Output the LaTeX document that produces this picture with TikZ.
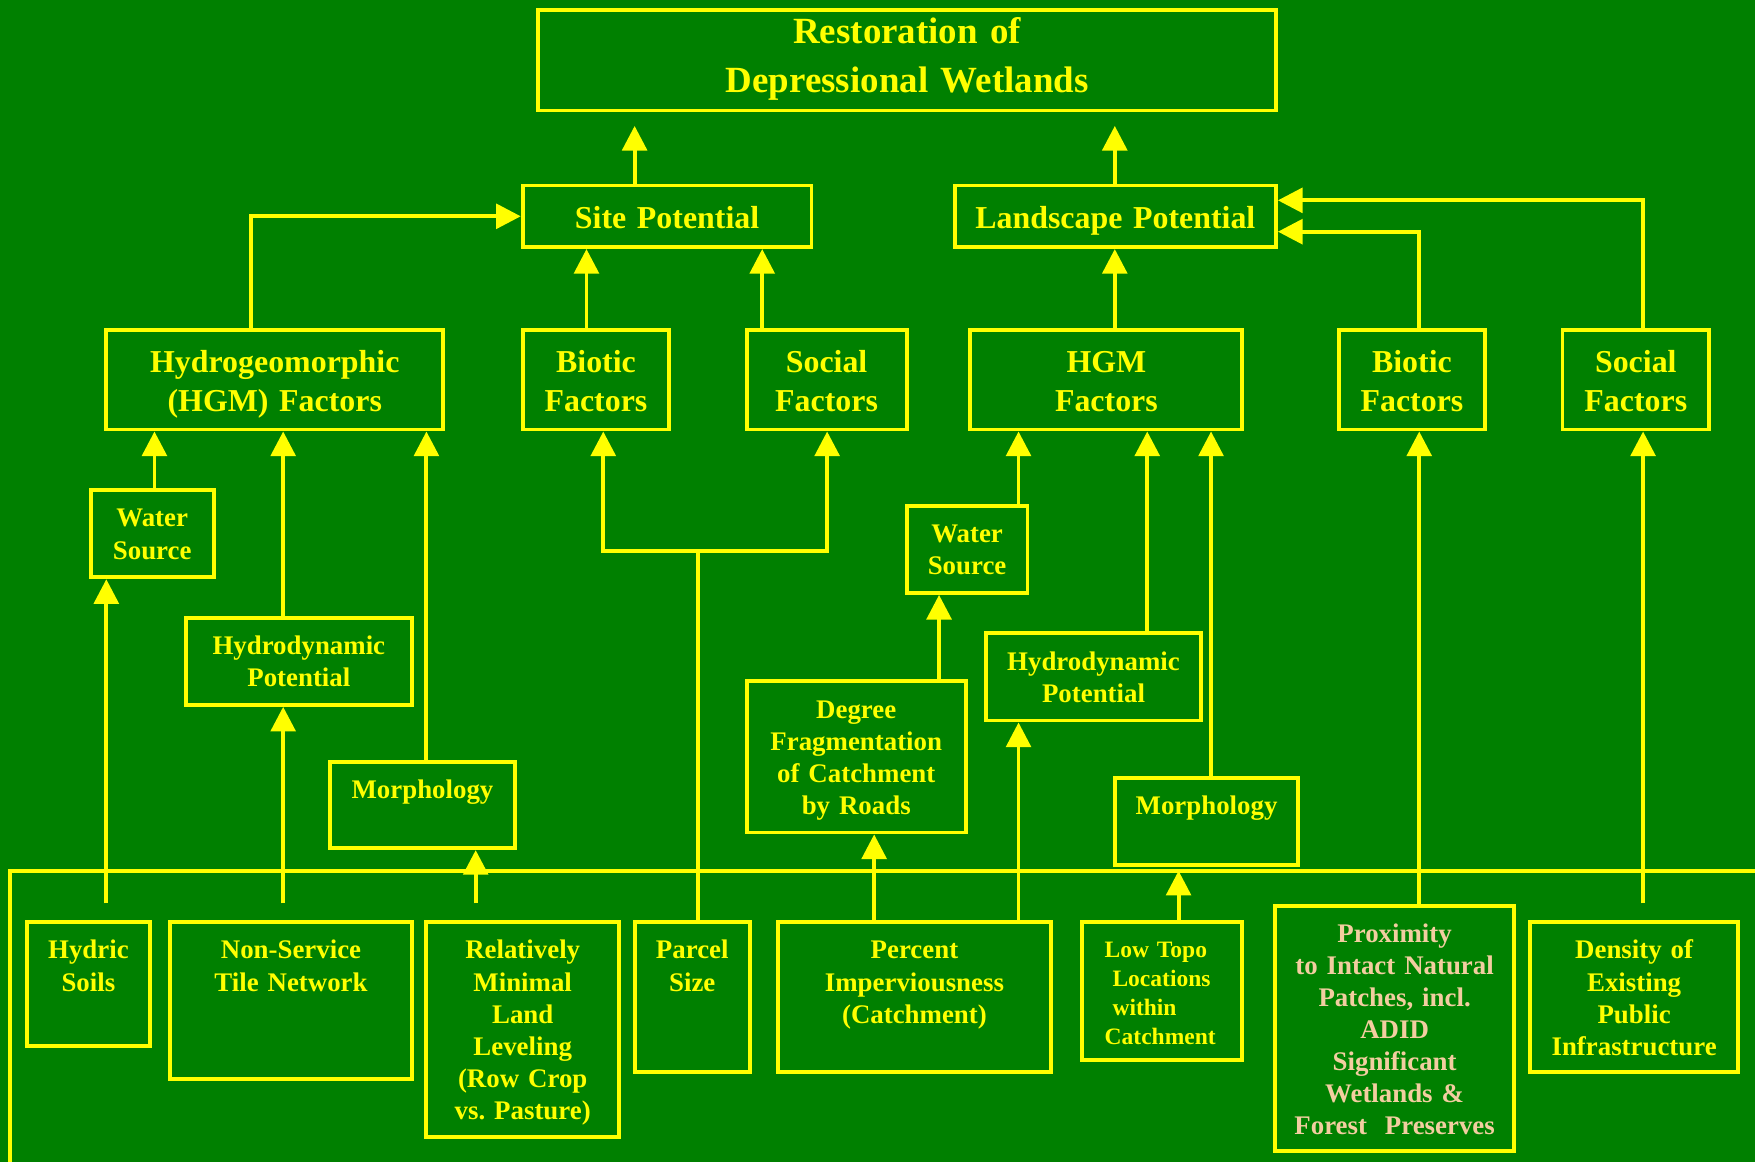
\documentclass[tikz,border=0pt]{standalone}
\usepackage{fontspec}
\setmainfont{Liberation Serif}
\usetikzlibrary{arrows.meta}
\definecolor{wetgreen}{RGB}{0,128,0}
\definecolor{wetyellow}{RGB}{255,255,0}
\definecolor{peach}{RGB}{242,206,160}
\frenchspacing
\tikzset{
  basic/.style     = {draw, rectangle, inner sep=0pt, anchor=north, align=center},
  root/.style      = {basic, font=\bfseries\fontsize{33}{44}\selectfont, text height=30pt},
  potential/.style = {basic, font=\bfseries\fontsize{28.5}{35}\selectfont,
                      text height=38pt, text depth=17pt},
  factor/.style    = {basic, font=\bfseries\fontsize{28.5}{35}\selectfont,
                      text height=38pt, text depth=51pt},
  sub/.style       = {basic, font=\bfseries\fontsize{24}{28.7}\selectfont, text height=33pt},
  leaf/.style      = {sub}
}

\begin{document}
\begin{tikzpicture}[
  x=1pt, y=-1pt,
  color=wetyellow, line width=3.5pt,
  >={Triangle[length=22pt,width=22pt]}]

\useasboundingbox (0,0) rectangle (1568,1038);
\fill[wetgreen] (0,0) rectangle (1568,1038);

% root of the diagram
\node[root, text width=659pt, text depth=60pt] (r) at (810.5,7) {Restoration of\\Depressional Wetlands};

% the two potentials
\node[potential, text width=258pt] (s) at (596,164) {Site Potential};
\node[potential, text width=287pt] (l) at (996.5,164) {Landscape Potential};

% factors of each potential
\node[factor, text width=301pt] (s1) at (245.5,293) {Hydrogeomorphic\\(HGM) Factors};
\node[factor, text width=131pt] (s2) at (532.5,293) {Biotic\\Factors};
\node[factor, text width=143pt] (s3) at (738.5,293) {Social\\Factors};
\node[factor, text width=243pt] (l1) at (988.5,293) {HGM\\Factors};
\node[factor, text width=131pt] (l2) at (1261.5,293) {Biotic\\Factors};
\node[factor, text width=131pt] (l3) at (1461.5,293) {Social\\Factors};

% HGM sub-factors
\node[sub, text width=110pt, text depth=45pt] (s11) at (136,436) {Water\\Source};
\node[sub, text width=202pt, text depth=45pt] (s12) at (267,550) {Hydrodynamic\\Potential};
\node[sub, text width=165pt, text depth=44pt] (s13) at (377.5,679) {Morphology};
\node[sub, text width=108pt, text depth=45pt] (l11) at (864,450) {Water\\Source};
\node[sub, text width=192pt, text depth=45pt] (l12) at (977,564) {Hydrodynamic\\Potential};
\node[sub, text width=164pt, text depth=45pt] (l13) at (1078,693) {Morphology};
\node[sub, text width=196pt, text depth=102pt] (l111) at (765,607) {Degree\\Fragmentation\\of Catchment\\by Roads};

% the measured indicators, bottom row
\node[leaf, text width=110pt, text depth=78pt] (b1) at (79,822) {Hydric\\Soils};
\node[leaf, text width=216pt, text depth=107pt] (b2) at (260,822) {Non-Service\\Tile Network};
\node[leaf, text width=172pt, text depth=159pt] (b3) at (467,822) {Relatively\\Minimal\\Land\\Leveling\\(Row Crop\\vs. Pasture)};
\node[leaf, text width=103pt, text depth=101pt] (b4) at (618.5,822) {Parcel\\Size};
\node[leaf, text width=244pt, text depth=101pt] (b5) at (817,822) {Percent\\Imperviousness\\(Catchment)};
\node[leaf, text width=103pt, inner xsep=20pt, align=left, text height=32pt, text depth=91pt,
      font=\bfseries\fontsize{21}{25.7}\selectfont] (b6) at (1038.5,822) {Low Topo\\\ Locations\\\ within\\Catchment};
\node[leaf, text width=214pt, text height=32pt, text depth=187pt, text=peach] (b7) at (1246,808)
  {Proximity\\to Intact Natural\\Patches, incl.\\ADID\\Significant\\Wetlands \&\\Forest\ \ Preserves};
\node[leaf, text width=186pt, text depth=101pt] (b8) at (1460,822) {Density of\\Existing\\Public\\Infrastructure};

% open frame round the bottom row
\coordinate (bar) at (9,778);
\draw (9,1050) |- (1580,778);

% arrows into the root
\foreach \x/\from in {567/s, 996/l}
  \draw[->, shorten >=12pt] (\x,0 |- \from.north) -- (\x,0 |- r.south);

% straight arrows from a node up to its parent
\foreach \x/\from/\to in {524/s2/s, 681/s3/s, 996/l1/l, 138/s11/s1, 253/s12/s1,
    381/s13/s1, 910/l11/l1, 1025/l12/l1, 1082/l13/l1, 839/l111/l11,
    781/b5/l111, 910/b5/l12, 1268/b7/l2}
  \draw[->] (\x,0 |- \from.north) -- (\x,0 |- \to.south);

% arrows that start a little above their box
\foreach \x/\from/\to in {95/b1/s11, 253/b2/s12, 425/b3/s13, 1468/b8/l3}
  \draw[->, shorten <=15pt] (\x,0 |- \from.north) -- (\x,0 |- \to.south);

\draw[->] (1053,0 |- b6.north) -- (1053,0 |- bar);

% bent arrows into the potentials
\draw[->] (224,0 |- s1.north) |- (s.west);
\draw[->] (1268,0 |- l2.north) |- (l.east |- 0,207);
\draw[->] (1468,0 |- l3.north) |- (l.east |- 0,179);

% parcel size feeds both site factors
\coordinate (j) at (624,492);
\draw (624,0 |- b4.north) -- (j);
\draw[->] (j) -| (539,0 |- s2.south);
\draw[->] (j) -| (739,0 |- s3.south);
\end{tikzpicture}
\end{document}
